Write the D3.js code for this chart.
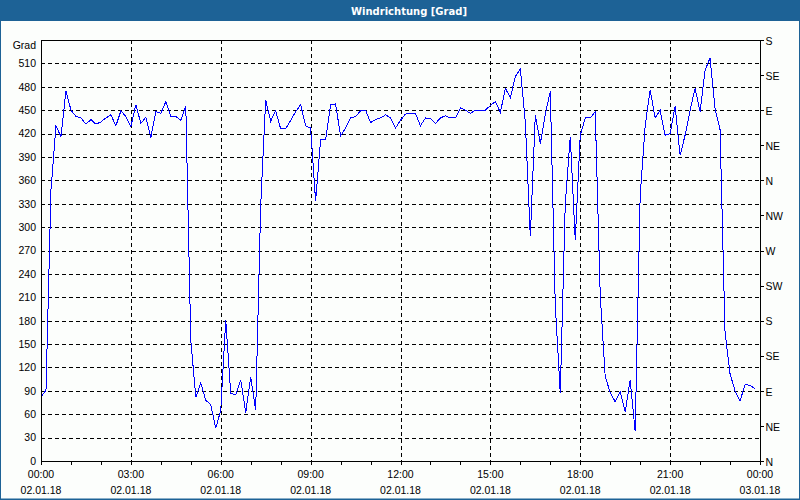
<!DOCTYPE html>
<html><head><meta charset="utf-8">
<script src="https://cdn.jsdelivr.net/npm/d3@7"></script>
<style>html,body{margin:0;padding:0;background:#fff}svg{display:block}</style>
</head><body><svg id="c" width="800" height="500"></svg>
<script>
const title = "Windrichtung [Grad]";
const yUnit = "Grad";
const intervalMinutes = 10;
const direction = [
 82, 91, 348, 430, 416, 475, 450, 442, 440, 432,
 438, 432, 435, 440, 444, 430, 449, 442, 429, 457,
 433, 441, 415, 448, 446, 461, 442, 442, 437, 455,
 155, 82, 100, 78, 72, 42, 65, 181, 87, 85,
 104, 62, 108, 65, 328, 463, 436, 449, 426, 426,
 437, 448, 457, 430, 427, 333, 412, 412, 457, 458,
 417, 427, 440, 442, 449, 450, 434, 438, 440, 444,
 440, 427, 437, 445, 446, 446, 430, 440, 439, 433,
 440, 443, 440, 440, 453, 450, 446, 450, 450, 450,
 456, 461, 447, 478, 466, 493, 503, 435, 288, 444,
 407, 445, 474, 200, 87, 330, 416, 283, 418, 440,
 440, 448, 213, 108, 88, 76, 89, 63, 104, 38,
 340, 430, 476, 440, 450, 418, 420, 455, 392, 418,
 450, 478, 448, 501, 517, 452, 425, 165, 112, 90,
 77, 98, 97, 93
];
const yTicks = [0,30,60,90,120,150,180,210,240,270,300,330,360,390,420,450,480,510];
const compassTicks = [0,45,90,135,180,225,270,315,360,405,450,495,540];
const compassLabels = ["N","NE","E","SE","S","SW","W","NW","N","NE","E","SE","S"];
const hourTicks = [0,60,120,180,240,300,360,420,480,540,600,660,720,780,840,900,960,1020,1080,1140,1200,1260,1320,1380,1440];
const timeTicks = [0,180,360,540,720,900,1080,1260,1440];
const timeLabels = ["00:00","03:00","06:00","09:00","12:00","15:00","18:00","21:00","00:00"];
const dateLabels = ["02.01.18","02.01.18","02.01.18","02.01.18","02.01.18","02.01.18","02.01.18","02.01.18","03.01.18"];

const svg = d3.select("#c");
const W = 800, H = 500;
const L = 41, R = 760, T = 40, B = 461;
const font = "'Liberation Sans', Arial, sans-serif";
const bg = "#fcfefc";
const frameBlue = "#1d6296";

svg.append("rect").attr("x",0).attr("y",0).attr("width",W).attr("height",H).attr("fill",bg);
// title bar
svg.append("rect").attr("x",0).attr("y",0).attr("width",W).attr("height",21).attr("fill",frameBlue);
svg.append("text").attr("x",409).attr("y",14.5).attr("text-anchor","middle")
  .attr("fill","#fff").attr("font-family","'DejaVu Sans', sans-serif").attr("font-weight","bold")
  .attr("font-size","10px").text(title);
// outer frame
svg.append("rect").attr("x",0.5).attr("y",0.5).attr("width",W-1).attr("height",H-1.5)
  .attr("fill","none").attr("stroke",frameBlue).attr("stroke-width",1);
svg.append("line").attr("x1",0).attr("x2",W).attr("y1",499.5).attr("y2",499.5).attr("stroke",frameBlue);

const x = d3.scaleLinear().domain([0,1440]).range([L,R]);
const y = d3.scaleLinear().domain([0,540]).range([B,T]);

const g = svg.append("g");
// horizontal gridlines
g.selectAll(".hg").data(yTicks.filter(v=>v>0)).enter().append("line")
  .attr("x1",L).attr("x2",R)
  .attr("y1",d=>Math.round(y(d))+0.5).attr("y2",d=>Math.round(y(d))+0.5)
  .attr("stroke","#000").attr("stroke-dasharray","4,3").attr("shape-rendering","crispEdges");
// vertical gridlines
g.selectAll(".vg").data(timeTicks.slice(1,-1)).enter().append("line")
  .attr("x1",d=>Math.round(x(d))+0.5).attr("x2",d=>Math.round(x(d))+0.5)
  .attr("y1",T).attr("y2",B)
  .attr("stroke","#000").attr("stroke-dasharray","4,3").attr("shape-rendering","crispEdges");

// line
const line = d3.line().x((d,i)=>x(i*intervalMinutes)).y(d=>y(d));
g.append("path").datum(direction).attr("d",line).attr("fill","none")
  .attr("stroke","#0000ff").attr("stroke-width",1).attr("shape-rendering","crispEdges");

// frame
g.append("rect").attr("x",L+0.5).attr("y",T+0.5).attr("width",R-L).attr("height",B-T)
  .attr("fill","none").attr("stroke","#000").attr("shape-rendering","crispEdges");

// left axis
const la = svg.append("g").attr("transform",`translate(${L},0)`)
  .call(d3.axisLeft(y).tickValues(yTicks).tickSize(0).tickPadding(5));
la.select(".domain").remove();
la.selectAll("text").attr("font-family",font).attr("font-size","10.5px").attr("fill","#000");
svg.append("text").attr("x",L-5).attr("y",49).attr("text-anchor","end")
  .attr("font-family",font).attr("font-size","10.5px").attr("fill","#000").text(yUnit);

// right axis
const ra = svg.append("g").attr("transform",`translate(${R+0.5},0)`)
  .call(d3.axisRight(y).tickValues(compassTicks).tickSize(3).tickPadding(2)
    .tickFormat((d,i)=>compassLabels[i]));
ra.select(".domain").remove();
ra.selectAll("line").attr("stroke","#000").attr("shape-rendering","crispEdges");
ra.selectAll("text").attr("font-family",font).attr("font-size","10.5px").attr("fill","#000").attr("dy","0.4em");

// bottom axis ticks
const ba = svg.append("g").attr("transform",`translate(0,${B+0.5})`)
  .call(d3.axisBottom(x).tickValues(hourTicks).tickSize(3).tickFormat(""));
ba.select(".domain").remove();
ba.selectAll("line").attr("stroke","#000").attr("shape-rendering","crispEdges");

const lab = svg.append("g").selectAll("text").data(timeTicks).enter().append("text")
  .attr("x",d=>x(d)).attr("text-anchor","middle")
  .attr("font-family",font).attr("font-size","10.5px").attr("fill","#000");
lab.append("tspan").attr("x",d=>x(d)).attr("y",478).text((d,i)=>timeLabels[i]);
lab.append("tspan").attr("x",d=>x(d)).attr("y",494).text((d,i)=>dateLabels[i]);
</script></body></html>
